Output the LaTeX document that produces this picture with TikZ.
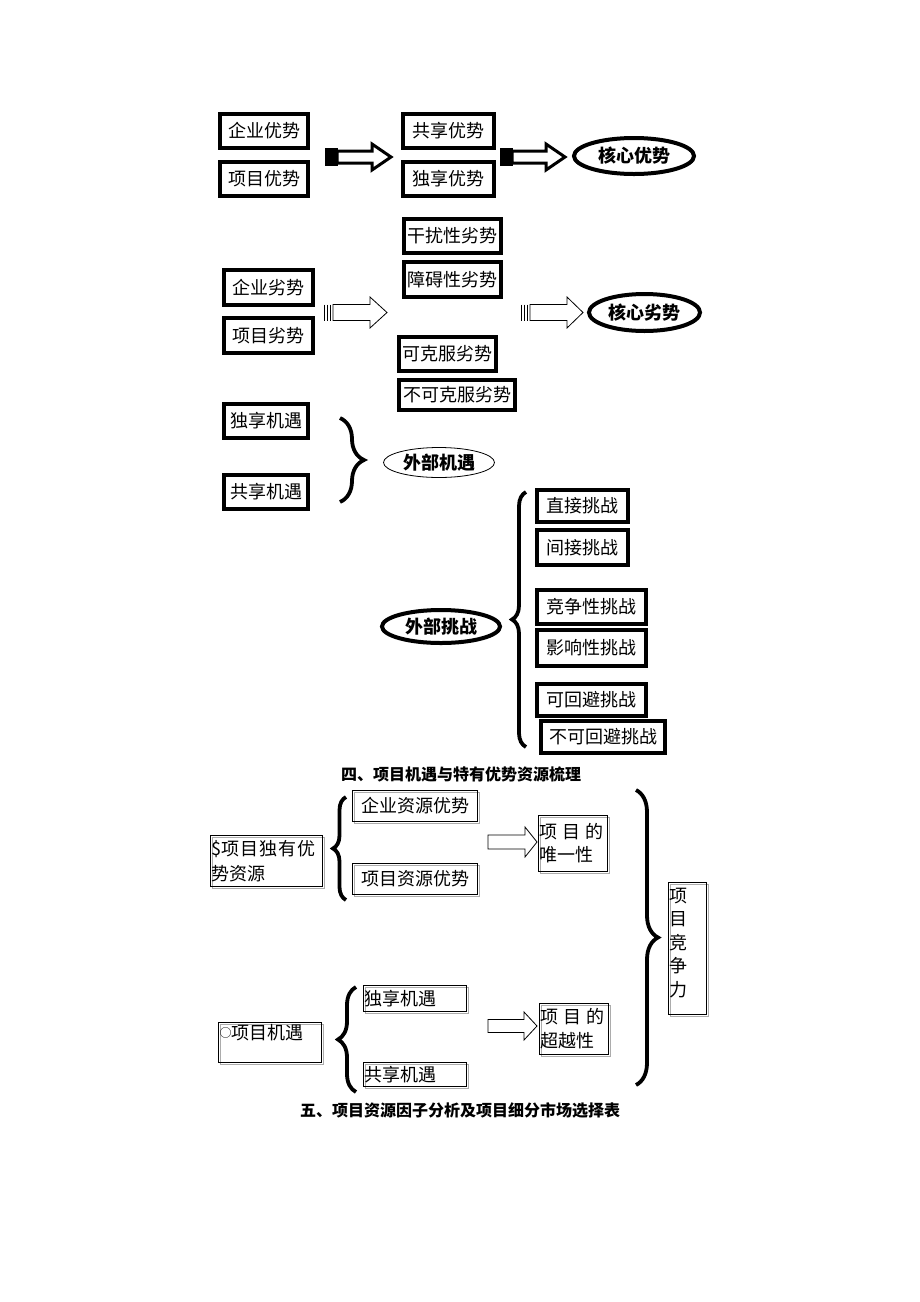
\documentclass[tikz,border=0pt]{standalone}
\usepackage{fontspec}
\setmainfont{Noto Sans CJK SC}
\usetikzlibrary{decorations.pathreplacing,shapes.geometric}
\newcommand\myblockarrow[7]{%
  \draw[#7] (#1,#4-#5) -- (#2,#4-#5) -- (#2,#4-#6) -- (#3,#4) -- (#2,#4+#6) -- (#2,#4+#5) -- (#1,#4+#5) -- cycle;}
\begin{document}
\begin{tikzpicture}[x=1pt,y=-1pt,
  every node/.style={font=\fontsize{18}{21}\selectfont, inner sep=0pt},
  thickbox/.style={draw, rectangle, line width=4pt},
  thickell/.style={draw, ellipse, line width=4pt, font=\fontsize{18}{21}\selectfont\bfseries},
  thinell/.style={draw, ellipse, line width=0.8pt, font=\fontsize{18}{21}\selectfont\bfseries},
  thinbox/.style={draw, rectangle, line width=0.9pt,
    preaction={draw=gray!65, line width=0.9pt, transform canvas={shift={(2pt,-2pt)}}}},
  mybrace/.style={decorate, decoration={brace, amplitude=#1}, line width=3.8pt},
  caption/.style={font=\fontsize{16}{18}\selectfont\bfseries},
  thickarrow/.style={line width=3pt, fill=white},
  thinarrow/.style={line width=0.8pt, fill=white}
]
\fill[white] (0,0) rectangle (920,1302);
\useasboundingbox (0,0) rectangle (920,1302);

% ---------- section 1: advantages ----------
\node[thickbox, minimum width=88pt, minimum height=34pt] (qyys) at (264,131) {企业优势};
\node[thickbox, minimum width=88pt, minimum height=34pt] (xmys) at (264,179) {项目优势};
\node[thickbox, minimum width=91pt, minimum height=34pt] (gxys) at (448.5,131) {共享优势};
\node[thickbox, minimum width=91pt, minimum height=34pt] (dxys) at (448.5,179) {独享优势};
\node[thickell, minimum width=120pt, minimum height=36pt] (hxys) at (634,156) {核心优势};
\fill (325,148) rectangle (338,166);
\myblockarrow{337}{372}{391}{157}{6}{13}{thickarrow}
\fill (500,148) rectangle (513,166);
\myblockarrow{512}{546}{565}{157}{6}{13}{thickarrow}

% ---------- section 2: disadvantages ----------
\node[thickbox, minimum width=97pt, minimum height=34pt] (grls) at (452.5,236) {干扰性劣势};
\node[thickbox, minimum width=97pt, minimum height=35pt] (zals) at (452.5,279.5) {障碍性劣势};
\node[thickbox, minimum width=89pt, minimum height=35pt] (qyls) at (268.5,287.5) {企业劣势};
\node[thickbox, minimum width=89pt, minimum height=35pt] (xmls) at (268.5,335.5) {项目劣势};
\node[thickbox, minimum width=97pt, minimum height=34pt] (kkfls) at (447.5,354) {可克服劣势};
\node[thickbox, minimum width=116pt, minimum height=30pt] (bkkfls) at (457,395) {不可克服劣势};
\node[thickell, minimum width=111pt, minimum height=37pt] (hxls) at (644.5,312.5) {核心劣势};
\myblockarrow{333}{370}{387}{312.5}{8}{15.5}{thinarrow}
\foreach \xx in {324,327,330} \draw[line width=0.9pt] (\xx,304.5) -- (\xx,320.5);
\myblockarrow{530}{567}{583}{312.5}{8}{15.5}{thinarrow}
\foreach \xx in {521,524,527} \draw[line width=0.9pt] (\xx,304.5) -- (\xx,320.5);

% ---------- section 3: opportunities ----------
\node[thickbox, minimum width=84pt, minimum height=34pt] (dxjy) at (266,421) {独享机遇};
\node[thickbox, minimum width=84pt, minimum height=34pt] (gxjy) at (266,492) {共享机遇};
\draw[mybrace=24pt] (340,418) -- (340,502);
\node[thinell, minimum width=111pt, minimum height=30pt] (wbjy) at (439,462.5) {外部机遇};

% ---------- section 4: challenges ----------
\node[thickell, minimum width=118pt, minimum height=33pt] (wbtz) at (441,626.5) {外部挑战};
\draw[mybrace=14pt] (526,747) -- (526,492);
\node[thickbox, minimum width=91pt, minimum height=32pt] (zjtz) at (582.5,506) {直接挑战};
\node[thickbox, minimum width=91pt, minimum height=35pt] (jjtz) at (582.5,547.5) {间接挑战};
\node[thickbox, minimum width=109pt, minimum height=34pt] (jzxtz) at (591.5,607) {竞争性挑战};
\node[thickbox, minimum width=109pt, minimum height=36pt] (yxxtz) at (591.5,648) {影响性挑战};
\node[thickbox, minimum width=109pt, minimum height=32pt] (khbtz) at (591.5,700) {可回避挑战};
\node[thickbox, minimum width=124pt, minimum height=32pt] (bkhbtz) at (603,737) {不可回避挑战};

\node[caption] (cap1) at (461,774) {四、项目机遇与特有优势资源梳理};

% ---------- section 5 ----------
\node[thinbox, minimum width=112pt, minimum height=51pt, text width=110pt, inner xsep=1pt, align=left,
  font=\fontsize{18}{25}\selectfont] (s1) at (266.5,861) {\$项\hspace{1pt}目\hspace{1pt}独\hspace{1pt}有\hspace{1pt}优\\势资源};
\draw[mybrace=13pt] (346,900) -- (346,797);
\node[thinbox, minimum width=125pt, minimum height=31pt] (qyzyys) at (415,806) {企业资源优势};
\node[thinbox, minimum width=125pt, minimum height=31pt] (xmzyys) at (415,879) {项目资源优势};
\myblockarrow{488}{525}{537}{842}{7}{15}{thinarrow}
\node[thinbox, minimum width=69pt, minimum height=56pt, text width=67pt, inner xsep=1pt, align=left,
  font=\fontsize{18}{23}\selectfont] (wyx) at (573,843.5) {项\hspace{5pt}目\hspace{5pt}的\\唯一性};
\draw[mybrace=22pt] (636,790) -- (636,1085);
\node[thinbox, minimum width=38pt, minimum height=132pt, text width=36pt, inner xsep=1pt, align=left,
  font=\fontsize{18}{23.5}\selectfont] (jzl) at (687.5,948.5) {项\\目\\竞\\争\\力\\[-11pt]\mbox{}};

\node[thinbox, minimum width=103pt, minimum height=40pt, text width=101pt, inner xsep=1pt, align=left] (xmjy) at (270,1042.5) {\raisebox{2.5pt}{\fontsize{12}{21}\selectfont ○}项目机遇\\\mbox{}};
\draw[mybrace=18pt] (356,1092) -- (356,987);
\node[thinbox, minimum width=103pt, minimum height=26pt, text width=101pt, inner xsep=0pt, align=left] (dxjy2) at (415,998.5) {独享机遇};
\node[thinbox, minimum width=103pt, minimum height=24pt, text width=101pt, inner xsep=0pt, align=left] (gxjy2) at (415,1074.5) {共享机遇};
\myblockarrow{488}{524}{537}{1026}{6.5}{14}{thinarrow}
\node[thinbox, minimum width=69pt, minimum height=51pt, text width=67pt, inner xsep=1pt, align=left,
  font=\fontsize{18}{24}\selectfont] (cyx) at (574,1029) {项\hspace{5pt}目\hspace{5pt}的\\超越性};

\node[caption] (cap2) at (460,1110) {五、项目资源因子分析及项目细分市场选择表};
\end{tikzpicture}
\end{document}
